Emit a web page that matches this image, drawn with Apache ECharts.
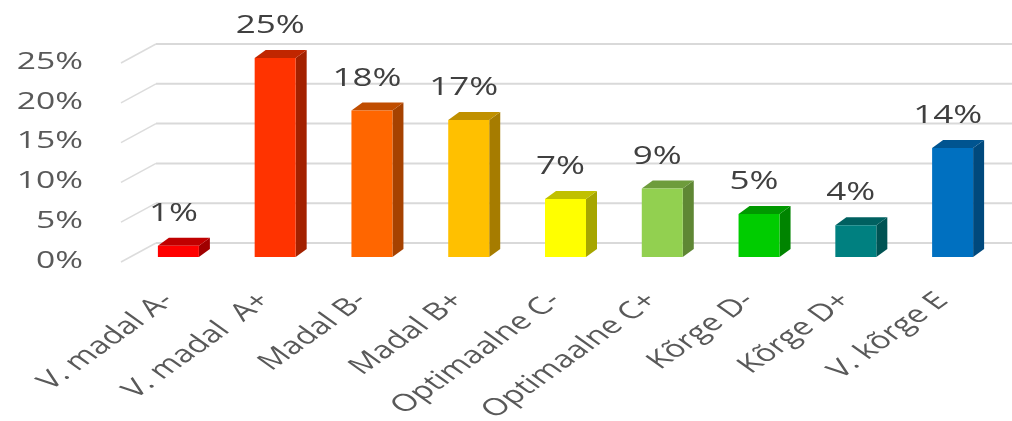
<!DOCTYPE html>
<html><head><meta charset="utf-8">
<script src="https://cdn.jsdelivr.net/npm/echarts@6/dist/echarts.min.js"></script>
<style>html,body{margin:0;padding:0;background:#fff}#c{width:1012px;height:421px}</style>
</head><body><div id="c"></div>
<script>
// ---- data ----
const categories = ['V. madal A-', 'V. madal  A+', 'Madal B-', 'Madal B+', 'Optimaalne C-', 'Optimaalne C+', 'Kõrge D-', 'Kõrge D+', 'V. kõrge E'];
const values = [1.4, 25.0, 18.4, 17.2, 7.3, 8.6, 5.4, 4.0, 13.7];
const tickValues = [0, 5, 10, 15, 20, 25];
const tickLabels = ['0%', '5%', '10%', '15%', '20%', '25%'];

// ---- styles ----
const faceColors = ['#FF0000', '#FF3300', '#FF6600', '#FFC000', '#FFFF00', '#92D050', '#00CC00', '#008080', '#0070C0'];
const topColors  = ['#C00000', '#C02600', '#C04D00', '#C09000', '#C0C000', '#6E9C3C', '#009900', '#006060', '#005490'];
const sideColors = ['#A00000', '#A32100', '#A64200', '#A67C00', '#A6A600', '#5F8734', '#008400', '#005353', '#00497D'];
const SX = 1.4;            // horizontal stretch of text
const FONT = 'Open Sans';
const WALL_DX = 35, WALL_DY = 19;
const BAR_OFF_X = 9, BAR_OFF_Y = 5;
const BAR_W = 41, BAR_DX = 11, BAR_DY = 8;

function stretchedText(x, y, text, opts) {
  return {
    type: 'group', x: x, y: y, scaleX: SX,
    children: [{
      type: 'text', rotation: opts.rotation || 0,
      style: {
        text: text, fill: opts.color, fontSize: opts.size, fontFamily: FONT,
        align: opts.align, verticalAlign: 'middle'
      }
    }]
  };
}

function renderGrid(params, api) {
  const cs = params.coordSys;
  const v = api.value(1);
  const y = api.coord([0, v])[1];
  const x0 = cs.x;
  return {
    type: 'group', children: [
      { type: 'line', shape: { x1: x0, y1: y, x2: x0 + WALL_DX, y2: y - WALL_DY }, style: { stroke: '#dcdcdc', lineWidth: 1.5 } },
      { type: 'line', shape: { x1: x0 + WALL_DX, y1: y - WALL_DY, x2: cs.x + cs.width + 20, y2: y - WALL_DY }, style: { stroke: '#d9d9d9', lineWidth: 2 } },
      stretchedText(83, y - 1, tickLabels[params.dataIndex], { color: '#595959', size: 24, align: 'right' })
    ]
  };
}

function renderBar(params, api) {
  const i = api.value(0), v = api.value(1);
  const base = api.coord([i, 0]);
  const tp = api.coord([i, v]);
  const cx = base[0] + BAR_OFF_X;
  const yb = base[1] - BAR_OFF_Y, yt = tp[1] - BAR_OFF_Y;
  const xl = cx - BAR_W / 2, xr = cx + BAR_W / 2;
  return {
    type: 'group', children: [
      { type: 'polygon', shape: { points: [[xr, yb], [xr + BAR_DX, yb - BAR_DY], [xr + BAR_DX, yt - BAR_DY], [xr, yt]] }, style: { fill: sideColors[i] } },
      { type: 'polygon', shape: { points: [[xl, yt], [xl + BAR_DX, yt - BAR_DY], [xr + BAR_DX, yt - BAR_DY], [xr, yt]] }, style: { fill: topColors[i] } },
      { type: 'rect', shape: { x: xl, y: yt, width: BAR_W, height: yb - yt }, style: { fill: faceColors[i] } },
      stretchedText(cx - 5, yt - 32, Math.round(v) + '%', { color: '#404040', size: 25, align: 'center' })
    ]
  };
}

function renderCat(params, api) {
  const i = api.value(0);
  const base = api.coord([i, 0]);
  const cx = base[0] + BAR_OFF_X;
  return stretchedText(cx - 10, 297, categories[i], { color: '#595959', size: 24, align: 'right', rotation: Math.PI / 4 });
}

const chart = echarts.init(document.getElementById('c'));
chart.setOption({
  animation: false,
  backgroundColor: '#ffffff',
  grid: { left: 121, right: 20, top: 63, bottom: 159 },
  xAxis: { type: 'category', data: categories, show: false },
  yAxis: { type: 'value', min: 0, max: 25, interval: 5, show: false, splitLine: { show: false } },
  series: [
    { type: 'custom', z: 1, clip: false, renderItem: renderGrid, data: tickValues.map(v => [0, v]), silent: true },
    { type: 'custom', z: 3, clip: false, renderItem: renderBar, data: values.map((v, i) => [i, v]) },
    { type: 'custom', z: 2, clip: false, renderItem: renderCat, data: categories.map((c, i) => [i, 0]), silent: true }
  ]
});
</script>
</body></html>
